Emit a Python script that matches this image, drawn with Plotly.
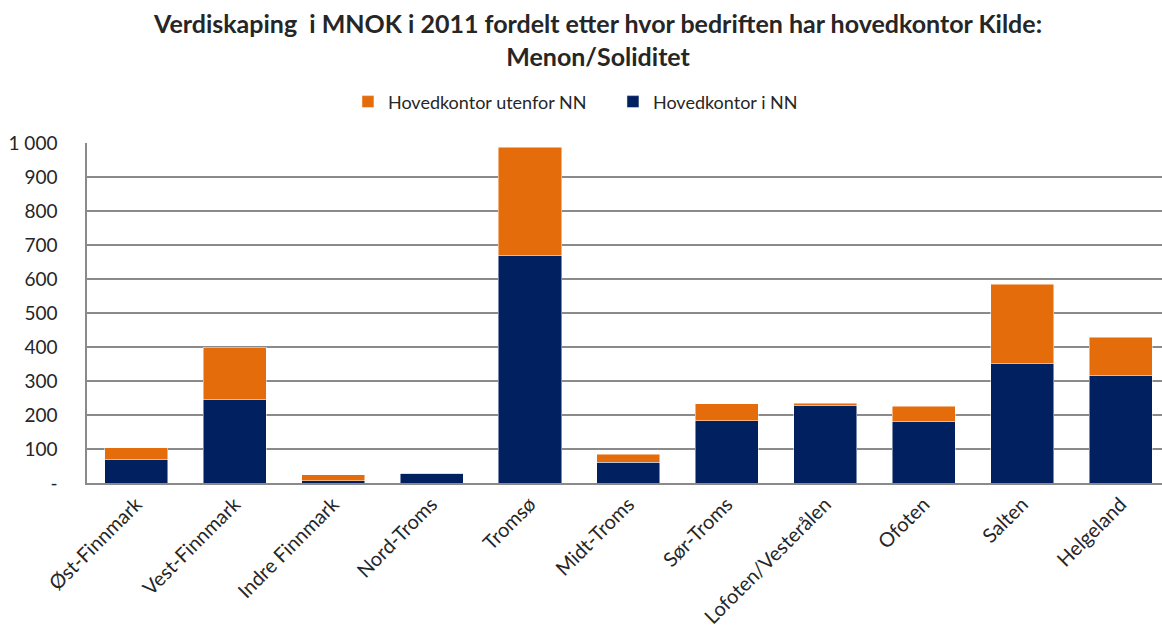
import plotly.graph_objects as go

# Regions of Nord-Norge
regions = ["Øst-Finnmark", "Vest-Finnmark", "Indre Finnmark", "Nord-Troms", "Tromsø",
           "Midt-Troms", "Sør-Troms", "Lofoten/Vesterålen", "Ofoten", "Salten", "Helgeland"]

# Value creation in MNOK, 2011
hq_in_nn = [70, 247, 7, 27, 670, 61, 183, 228, 181, 351, 317]
hq_outside_nn = [33, 152, 17, 1, 318, 23, 50, 7, 45, 234, 112]

y_ticks = [0, 100, 200, 300, 400, 500, 600, 700, 800, 900, 1000]
y_tick_labels = ["-", "100", "200", "300", "400", "500", "600", "700", "800", "900", "1 000"]

NAVY = "#002060"
ORANGE = "#E46C0A"
FONT = "Lato, 'Open Sans', sans-serif"
TEXT = "#262626"
GRID = "#8a8a8a"

fig = go.Figure()
fig.add_trace(go.Bar(
    x=regions, y=hq_in_nn, name="Hovedkontor i NN",
    marker=dict(color=NAVY, line=dict(color="rgba(255,255,255,0.6)", width=0.8)),
    legendrank=2,
))
fig.add_trace(go.Bar(
    x=regions, y=hq_outside_nn, name="Hovedkontor utenfor NN",
    marker=dict(color=ORANGE, line=dict(color="rgba(255,255,255,0.6)", width=0.8)),
    legendrank=1,
))

fig.update_layout(
    barmode="stack",
    bargap=0.36,
    width=1162, height=637,
    margin=dict(l=87, r=0, t=143, b=154),
    paper_bgcolor="white", plot_bgcolor="white",
    font=dict(family=FONT, size=18, color=TEXT),
    annotations=[dict(
        text="<b>Verdiskaping  i MNOK i 2011 fordelt etter hvor bedriften har hovedkontor Kilde:<br>Menon/Soliditet</b>",
        x=(597 - 87) / 1075, xanchor="center", xref="paper",
        y=1 + (143 - 40) / 340, yanchor="middle", yref="paper",
        showarrow=False,
        font=dict(family=FONT, size=25, color=TEXT),
    )],
    legend=dict(
        orientation="h", x=0.5275, xanchor="center", xref="container",
        y=0.84, yanchor="middle", yref="container",
        font=dict(family=FONT, size=18, color=TEXT),
        itemwidth=30, traceorder="normal",
        entrywidth=220, entrywidthmode="pixels",
    ),
    showlegend=True,
)

fig.update_xaxes(
    range=[-0.5, 10.42],
    tickangle=-45,
    showline=True, linecolor=GRID, linewidth=1.5,
    ticks="", showgrid=False,
    tickfont=dict(family=FONT, size=20, color=TEXT),
)
fig.update_yaxes(
    range=[0, 1000],
    tickvals=y_ticks, ticktext=y_tick_labels,
    showline=True, linecolor=GRID, linewidth=1.5,
    showgrid=True, gridcolor=GRID, gridwidth=1.5,
    ticks="", ticklabelstandoff=24,
    zeroline=False,
    tickfont=dict(family=FONT, size=19, color=TEXT),
)

fig.write_html("out.html")
